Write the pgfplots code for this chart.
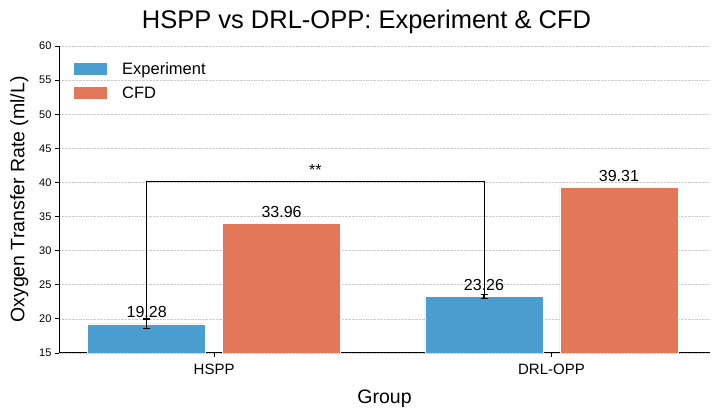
\documentclass[border=0pt]{standalone}
\usepackage{fontspec}
\setmainfont{Liberation Sans}
\usepackage{pgfplots}
\pgfplotsset{compat=1.18}
\definecolor{cblue}{HTML}{4A9ECF}
\definecolor{corange}{HTML}{E2775A}
\begin{document}
\begin{tikzpicture}[x=1pt,y=1pt]
\begin{axis}[
  at={(59pt,58pt)}, anchor=south west,
  scale only axis, width=651pt, height=307pt,
  xmin=-0.46, xmax=1.47, ymin=15, ymax=60,
  ybar, bar width=0.35,
  xtick={0,1}, xticklabels={HSPP,DRL-OPP},
  ytick={15,20,...,60},
  axis x line*=bottom, axis y line*=left,
  axis line style={-, line width=1pt, black},
  tick align=outside, major tick length=4pt,
  tick style={black, line width=0.8pt},
  ymajorgrids, grid style={densely dotted, gray!40, line width=0.6pt},
  /pgf/number format/assume math mode=true,
  yticklabel style={font=\fontsize{11}{13}\selectfont},
  xticklabel style={font=\fontsize{15}{18}\selectfont, yshift=-4pt},
  xlabel={Group}, ylabel={Oxygen Transfer Rate (ml/L)},
  label style={font=\fontsize{19.5}{23}\selectfont},
  ylabel style={yshift=4pt},
  xlabel style={yshift=-8pt},
  legend style={at={(0.023,0.948)}, anchor=north west, draw=none, fill=none,
    font=\fontsize{16.5}{19}\selectfont, row sep=11pt, inner sep=0pt,
    nodes={inner sep=0pt}, column sep=15pt},
  legend cell align=left,
]
\addlegendimage{fill=cblue, draw=none, legend image code/.code={\fill[cblue] (0pt,-6pt) rectangle (33pt,6pt);}}
\addlegendimage{fill=corange, draw=none, legend image code/.code={\fill[corange] (0pt,-6pt) rectangle (33pt,6pt);}}
\addplot[forget plot, fill=cblue, draw=white, line width=0.5pt, bar shift=-0.2,
  error bars/.cd, y dir=both, y explicit,
  error bar style={black, line width=1.3pt},
  error mark options={black, line width=1.3pt, mark size=3.5pt, rotate=90}]
  coordinates {(0,19.28) +- (0,0.7) (1,23.26) +- (0,0.3)};
\addplot[forget plot, fill=corange, draw=white, line width=0.5pt, bar shift=0.2]
  coordinates {(0,33.96) (1,39.31)};
\legend{Experiment, CFD}
\draw[line width=1pt, black] (axis cs:-0.2,20.1) -- (axis cs:-0.2,40.1) -- (axis cs:0.8,40.1) -- (axis cs:0.8,23.6);
\node[anchor=base, font=\fontsize{16}{18}\selectfont] at (axis cs:0.3,41.0) {**};
\node[anchor=base, font=\fontsize{16}{18}\selectfont, inner sep=0pt] at (axis cs:-0.2,20.13) {19.28};
\node[anchor=base, font=\fontsize{16}{18}\selectfont, inner sep=0pt] at (axis cs:0.8,24.11) {23.26};
\node[anchor=base, font=\fontsize{16}{18}\selectfont, inner sep=0pt] at (axis cs:0.2,34.81) {33.96};
\node[anchor=base, font=\fontsize{16}{18}\selectfont, inner sep=0pt] at (axis cs:1.2,40.16) {39.31};
\end{axis}
\node[font=\fontsize{25.5}{30}\selectfont] at (366.5pt,389pt) {HSPP vs DRL-OPP: Experiment \& CFD};
\pgfresetboundingbox
\path[use as bounding box] (0,0) rectangle (716pt,411pt);
\end{tikzpicture}
\end{document}
